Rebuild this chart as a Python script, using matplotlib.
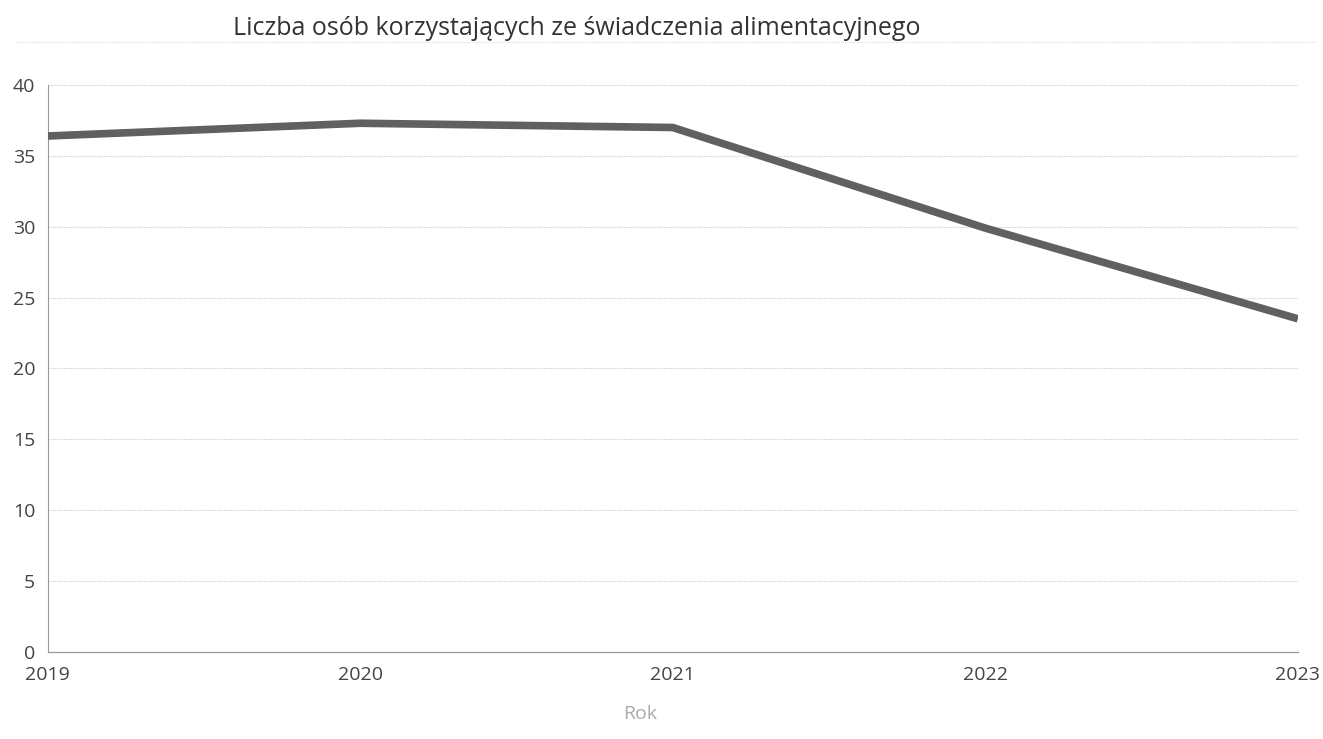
import matplotlib
matplotlib.use("Agg")
import matplotlib.pyplot as plt

# Data
years = [2019, 2020, 2021, 2022, 2023]
persons = [36.4, 37.3, 37.0, 29.9, 23.5]
yticks = [0, 5, 10, 15, 20, 25, 30, 35, 40]

title = "Liczba osób korzystających ze świadczenia alimentacyjnego"
xlabel = "Rok"

plt.rcParams['font.family'] = ['Open Sans', 'DejaVu Sans']

fig = plt.figure(figsize=(13.23, 7.39), dpi=100)
ax = fig.add_axes([0.036, 0.118, 0.945, 0.767])

ax.plot(years, persons, color='#606060', linewidth=5.5, solid_capstyle='butt',
        solid_joinstyle='miter', zorder=3)

ax.set_xlim(years[0], years[-1])
ax.set_ylim(0, 40)
ax.set_xticks(years)
ax.set_yticks(yticks)
ax.tick_params(axis='both', length=0, labelsize=14, labelcolor='#444444')
ax.tick_params(axis='x', pad=10)
ax.tick_params(axis='y', pad=9)

ax.grid(axis='y', color='#cccccc', linestyle=(0, (1, 1)), linewidth=0.8)
for side in ['top', 'right']:
    ax.spines[side].set_visible(False)
ax.spines['left'].set_linestyle((0, (1, 1)))
ax.spines['left'].set_color('#999999')
ax.spines['bottom'].set_color('#999999')
ax.spines['bottom'].set_linewidth(0.9)

ax.set_xlabel(xlabel, fontsize=14, color='#aaaaaa')
ax.xaxis.set_label_coords(0.474, -0.093)

fig.text(0.436, 0.962, title, fontsize=18, color='#333333', ha='center', va='center')
fig.add_artist(plt.Line2D([0.012, 0.995], [0.943, 0.943], color='#dddddd',
                          linewidth=0.8, linestyle=(0, (1, 1)),
                          transform=fig.transFigure))

fig.savefig('out.png', dpi=100, facecolor='white')
